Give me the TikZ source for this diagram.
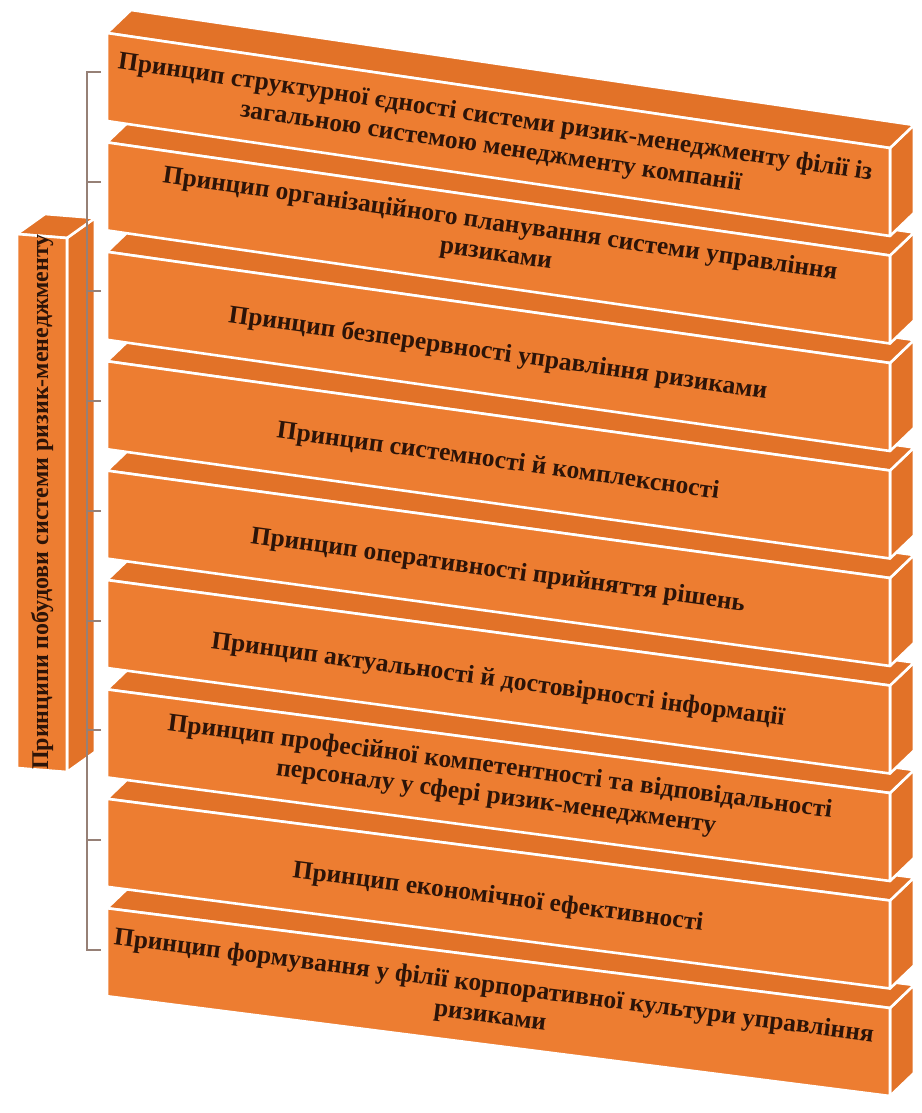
\documentclass[tikz,border=0pt]{standalone}
\usepackage{fontspec}
\setmainfont{Liberation Serif}
\usetikzlibrary{calc}
\definecolor{boxorange}{RGB}{237,125,49}
\definecolor{boxside}{RGB}{226,114,40}
\definecolor{txtbrown}{RGB}{45,20,8}
\definecolor{brkgray}{RGB}{150,128,118}
\tikzset{
  face/.style    ={fill=boxorange, draw=white, line width=2.6pt, line join=round},
  sideface/.style={fill=boxside, draw=white, line width=2.6pt, line join=round},
  lbl/.style     ={font=\fontsize{25.5}{30}\selectfont\bfseries, text=txtbrown,
                   align=center, inner sep=0pt},
  grplbl/.style  ={lbl, font=\fontsize{24}{28}\selectfont\bfseries, rotate=90},
  brk/.style     ={draw=brkgray, line width=1.2pt}
}

\begin{document}
\begin{tikzpicture}[x=1pt,y=-1pt]
\useasboundingbox (0,0) rectangle (921,1113);

% Left column (the group)
\filldraw[sideface] (67,238) -- (95,218) -- (95,752) -- (67,772) -- cycle;
\filldraw[sideface] (17,234) -- (45,214) -- (95,218) -- (67,238) -- cycle;
\filldraw[face] (17,234) -- (67,238) -- (67,772) -- (17,768) -- cycle;
\node[grplbl] (main) at (42,502) {Принципи побудови системи ризик-менеджменту};

% Stacked boxes, bottom one first so the upper ones cover its top face
\foreach \k in {8,...,0}{
  \pgfmathsetmacro\yl{33+109.4*\k}
  \pgfmathsetmacro\yr{148+107.5*\k}
  \filldraw[sideface] (890,\yr) -- ++(24,-23) -- ++(0,88) -- ++(-24,23) -- cycle;
  \filldraw[sideface] (107,\yl) -- (890,\yr) -- ++(24,-23) -- (131,\yl-23) -- cycle;
  \filldraw[face] (107,\yl) -- (890,\yr) -- ++(0,88) -- (107,\yl+88) -- cycle;
}

\node[lbl, rotate=-8.4] (p1) at (493,133)
  {Принцип структурної єдності системи ризик-менеджменту філії із\\загальною системою менеджменту компанії};
\node[lbl, rotate=-8.2] (p2) at (498,240)
  {Принцип організаційного планування системи управління\\ризиками};
\node[lbl, rotate=-8.1] (p3) at (498,354)
  {Принцип безперервності управління ризиками};
\node[lbl, rotate=-7.9] (p4) at (498,462)
  {Принцип системності й комплексності};
\node[lbl, rotate=-7.8] (p5) at (498,571)
  {Принцип оперативності прийняття рішень};
\node[lbl, rotate=-7.7] (p6) at (498,681)
  {Принцип актуальності й достовірності інформації};
\node[lbl, rotate=-7.5] (p7) at (498,783)
  {Принцип професійної компетентності та відповідальності\\персоналу у сфері ризик-менеджменту};
\node[lbl, rotate=-7.4] (p8) at (498,898)
  {Принцип економічної ефективності};
\node[lbl, rotate=-7.3] (p9) at (492,1002)
  {Принцип формування у філії корпоративної культури управління\\ризиками};

% Bracket
\foreach \i/\y in {1/72,2/182,3/291,4/401,5/511,6/621,7/730,8/840,9/950}
  \coordinate (t\i) at (101,\y);
\draw[brk] (t1) -- ++(-14,0) |- (t9);
\foreach \i in {2,...,8}
  \draw[brk] (t\i) -- ++(-14,0);
\end{tikzpicture}
\end{document}
